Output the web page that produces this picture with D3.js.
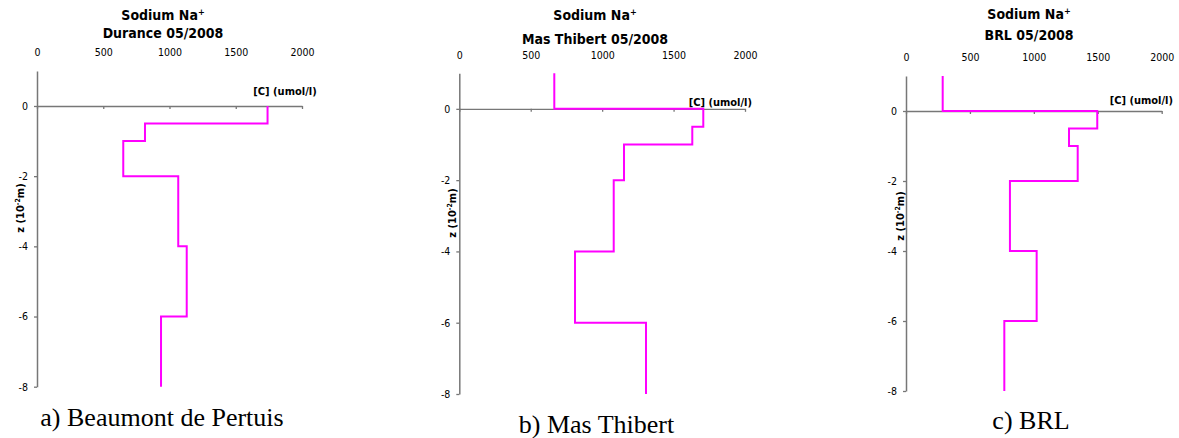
<!DOCTYPE html>
<html><head><meta charset="utf-8">
<script src="https://cdn.jsdelivr.net/npm/d3@7"></script>
<style>
html,body{margin:0;padding:0;background:#fff;}
svg{display:block;}
.sans{font-family:"DejaVu Sans Condensed","DejaVu Sans",sans-serif;font-stretch:condensed;}
.serif{font-family:"Liberation Serif","Times New Roman",serif;}
</style></head><body>
<svg id="chart" width="1179" height="438"></svg>
<script>
// Layer boundaries (z, in 10^-2 m) and sodium concentration per layer (umol/l)
const layerTop    = [1, 0, -0.5, -1, -2, -4, -6];
const layerBottom = [0, -0.5, -1, -2, -4, -6, -8];
const sodiumDurance    = [null, 1740, 815, 651, 1066, 1130, 936];
const sodiumMasThibert = [665, 1708, 1631, 1153, 1081, 810, 1307];
const sodiumBRL        = [287, 1496, 1275, 1343, 813, 1022, 769];

const siteTitles = ["Durance 05/2008", "Mas Thibert 05/2008", "BRL 05/2008"];
const captions   = ["a) Beaumont de Pertuis", "b) Mas Thibert", "c) BRL"];
const concTicks  = [0, 500, 1000, 1500, 2000];
const depthTicks = [0, -2, -4, -6, -8];

const seriesList = [sodiumDurance, sodiumMasThibert, sodiumBRL];

// Placement of each small panel
const frames = [
  {x0:37,    x1:302,    yTop:70.9, yBottom:386.7, titleX:163,  t1:15, t2:33,   tickY:52,   unitX:316.7, unitY:90.7,  zX:20,  zY:208, capX:162,   capY:425.7},
  {x0:459.3, x1:745,    yTop:73.2, yBottom:394,   titleX:595,  t1:15, t2:38.5, tickY:55,   unitX:752,   unitY:101.7, zX:452, zY:213, capX:596.5, capY:433},
  {x0:906,   x1:1161.7, yTop:76,   yBottom:391,   titleX:1029, t1:14, t2:35,   tickY:56.7, unitX:1173,  unitY:100,   zX:900, zY:216, capX:1031,  capY:429}
];

const svg = d3.select("#chart");
const axisColor = "#777";
const plainNumber = d => String(d);   // hyphen-minus, as in the printed figure

frames.forEach((f, k) => {
  const values = seriesList[k];
  const x = d3.scaleLinear().domain([0, 2000]).range([f.x0, f.x1]);
  const y = d3.scaleLinear().domain([1, -8]).range([f.yTop, f.yBottom]);
  const g = svg.append("g");

  // title
  const t1 = g.append("text").attr("class", "sans")
    .attr("x", f.titleX).attr("y", f.t1).attr("dy", "0.36em")
    .attr("text-anchor", "middle").attr("font-weight", "bold").attr("font-size", 14);
  t1.append("tspan").text("Sodium Na");
  t1.append("tspan").attr("dy", -5).attr("font-size", 9).text("+");
  g.append("text").attr("class", "sans")
    .attr("x", f.titleX).attr("y", f.t2).attr("dy", "0.36em")
    .attr("text-anchor", "middle").attr("font-weight", "bold").attr("font-size", 14)
    .text(siteTitles[k]);

  // concentration labels above the plot
  const topAxis = g.append("g").attr("transform", `translate(0,${f.tickY + 4})`)
    .call(d3.axisTop(x).tickValues(concTicks).tickSize(0).tickPadding(0).tickFormat(plainNumber));
  topAxis.select(".domain").remove();
  topAxis.selectAll("text").attr("class", "sans").attr("font-size", 10.5).attr("fill", "#000")
    .attr("font-family", null);

  // horizontal axis crossing at z = 0
  const xAxis = g.append("g").attr("transform", `translate(0,${y(0)})`)
    .call(d3.axisBottom(x).tickValues(concTicks).tickSize(3).tickSizeOuter(0).tickFormat(""));
  xAxis.select(".domain").attr("stroke", axisColor).attr("stroke-width", 1.3);
  xAxis.selectAll(".tick line").attr("stroke", axisColor).attr("stroke-width", 1.3);

  // vertical depth axis
  const yAxis = g.append("g").attr("transform", `translate(${f.x0},0)`)
    .call(d3.axisLeft(y).tickValues(depthTicks).tickSize(3).tickSizeOuter(0).tickPadding(6)
      .tickFormat(plainNumber));
  yAxis.select(".domain").attr("stroke", axisColor).attr("stroke-width", 1.5);
  yAxis.selectAll(".tick line").attr("stroke", axisColor).attr("stroke-width", 1.3);
  yAxis.selectAll("text").attr("class", "sans").attr("font-size", 10.5).attr("fill", "#000")
    .attr("font-family", null);

  // unit label
  g.append("text").attr("class", "sans")
    .attr("x", f.unitX).attr("y", f.unitY).attr("dy", "0.36em")
    .attr("text-anchor", "end").attr("font-weight", "bold").attr("font-size", 11)
    .text("[C] (umol/l)");

  // depth label
  const zl = g.append("text").attr("class", "sans")
    .attr("transform", `translate(${f.zX},${f.zY}) rotate(-90)`).attr("dy", "0.36em")
    .attr("text-anchor", "middle").attr("font-weight", "bold").attr("font-size", 11);
  zl.append("tspan").text("z (10");
  zl.append("tspan").attr("dy", -4).attr("font-size", 7).text("-2");
  zl.append("tspan").attr("dy", 4).text("m)");

  // step profile
  const pts = [];
  values.forEach((v, i) => {
    if (v == null) return;
    pts.push([v, layerTop[i]], [v, layerBottom[i]]);
  });
  g.append("path").datum(pts)
    .attr("fill", "none").attr("stroke", "#ff00ff").attr("stroke-width", 2)
    .attr("d", d3.line().x(d => x(d[0])).y(d => y(d[1])));

  // caption
  g.append("text").attr("class", "serif")
    .attr("x", f.capX).attr("y", f.capY)
    .attr("text-anchor", "middle").attr("font-size", 26).attr("fill", "#000")
    .text(captions[k]);
});
</script>
</body></html>
